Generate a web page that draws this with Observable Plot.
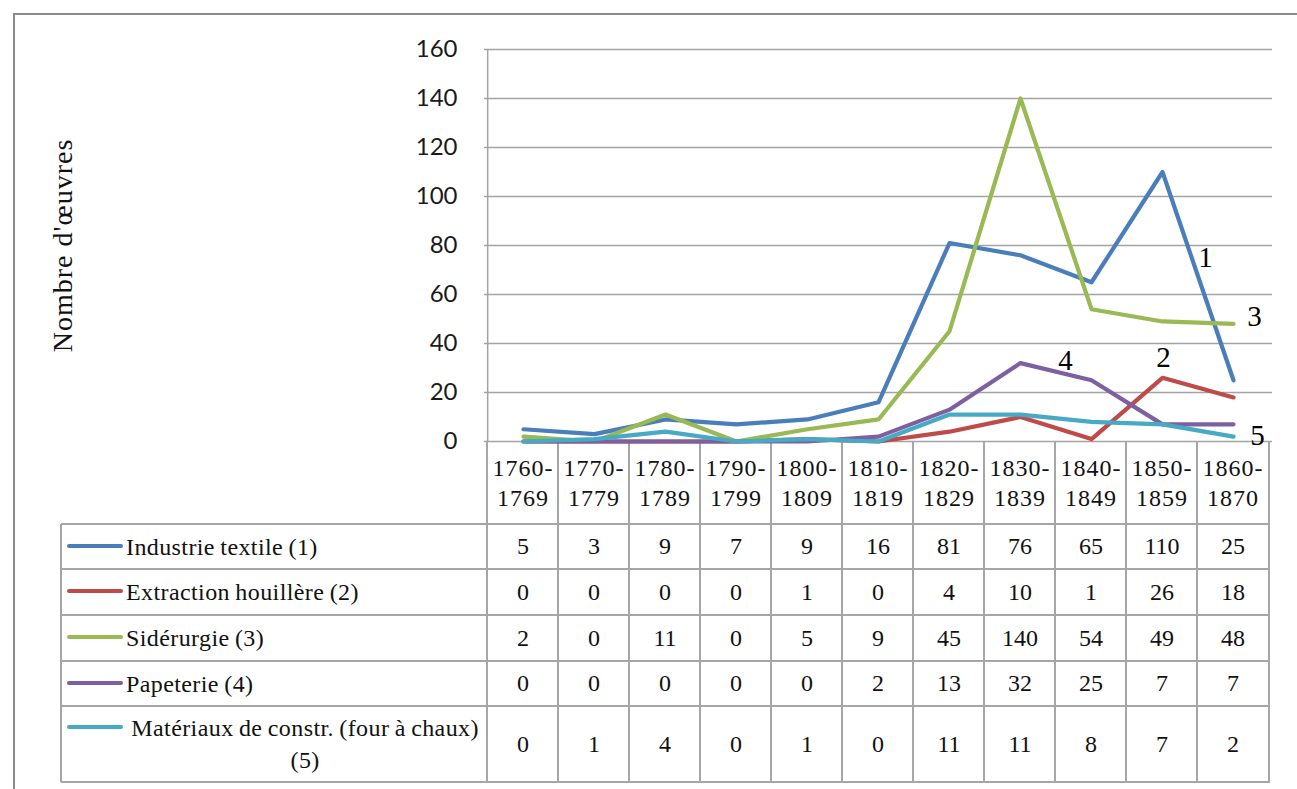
<!DOCTYPE html>
<html><head><meta charset="utf-8">
<script src="https://cdn.jsdelivr.net/npm/d3@7"></script>
<script src="https://cdn.jsdelivr.net/npm/@observablehq/plot@0.6"></script>
<style>
html,body{margin:0;padding:0;background:#fff;}
#wrap{position:relative;width:1297px;height:789px;overflow:hidden;font-family:'Liberation Serif',serif;color:#111;}
#frame{position:absolute;left:13px;top:13px;width:1400px;height:900px;border-left:2px solid #8a8a8a;border-top:2px solid #8a8a8a;}
#chart{position:absolute;left:0;top:0;z-index:2;}
#table{position:absolute;left:0;top:0;z-index:1;font-family:'Liberation Serif',serif;}
.ln{position:absolute;background:#a6a6a6;}
.cell{position:absolute;display:flex;align-items:center;justify-content:center;font-size:24px;font-family:'Liberation Serif',serif;}
.lab{position:absolute;display:flex;align-items:center;font-family:'Liberation Serif',serif;}
</style></head>
<body><div id="wrap"><div id="frame"></div><div id="table"></div><div id="chart"></div></div>
<script>
// ---- data ----
const categories = ["1760-1769","1770-1779","1780-1789","1790-1799","1800-1809","1810-1819","1820-1829","1830-1839","1840-1849","1850-1859","1860-1870"];
const seriesNames = ["Industrie textile (1)","Extraction houillère (2)","Sidérurgie (3)","Papeterie (4)","Matériaux de constr. (four à chaux) (5)"];
const textile    = [5, 3, 9, 7, 9, 16, 81, 76, 65, 110, 25];
const houille    = [0, 0, 0, 0, 1, 0, 4, 10, 1, 26, 18];
const siderurgie = [2, 0, 11, 0, 5, 9, 45, 140, 54, 49, 48];
const papeterie  = [0, 0, 0, 0, 0, 2, 13, 32, 25, 7, 7];
const materiaux  = [0, 1, 4, 0, 1, 0, 11, 11, 8, 7, 2];
const seriesValues = [textile, houille, siderurgie, papeterie, materiaux];
const seriesColors = ["#4A7EBB","#BE4B48","#98B954","#7D60A0","#46AAC5"];
const yTicks = [0, 20, 40, 60, 80, 100, 120, 140, 160];
const yLabel = "Nombre d'œuvres";
const seriesTags = [
  {tag:"1", at:"1860-1870", value:75},
  {tag:"2", at:"1850-1859", value:34},
  {tag:"3", at:"1860-1870", value:51},
  {tag:"4", at:"1840-1849", value:33},
  {tag:"5", at:"1860-1870", value:2.4}
];

// ---- layout ----
const W = 1297, H = 445, ML = 484, MR = 25, MT = 49, MB = 4;
const step = (W - ML - MR) / categories.length;
const tagDx = {"1": -28, "2": 1, "3": 21, "4": -26, "5": 24};
const serif = "'Liberation Serif', serif";

const rows = seriesNames.flatMap((s, i) => categories.map((c, j) => ({series: s, category: c, value: seriesValues[i][j]})));

const chart = Plot.plot({
  width: W, height: H, marginLeft: ML, marginRight: MR, marginTop: MT, marginBottom: MB,
  style: {fontFamily: "Lato, 'Open Sans', sans-serif", fontSize: "24px", color: "#1a1a1a", background: "transparent", overflow: "visible"},
  x: {type: "point", domain: categories, padding: 0.5, axis: null},
  y: {domain: [0, 160], axis: null},
  color: {domain: seriesNames, range: seriesColors},
  marks: [
    Plot.ruleY(yTicks, {stroke: "#a3a3a3", strokeWidth: 1.5}),
    Plot.ruleX([categories[0]], {dx: -step / 2, stroke: "#a3a3a3", strokeWidth: 1.5}),
    Plot.axisY({ticks: yTicks, tickSize: 0, tickPadding: 27, label: null, fontSize: 24, fill: "#1a1a1a"}),
    Plot.line(rows, {x: "category", y: "value", z: "series", stroke: "series", strokeWidth: 4.2, strokeLinejoin: "round", strokeLinecap: "round"}),
    ...seriesTags.map(t => Plot.text([t], {x: "at", y: "value", text: "tag", dx: tagDx[t.tag], fontFamily: serif, fontSize: 29, fill: "#000"})),
    Plot.text([yLabel], {frameAnchor: "left", textAnchor: "middle", rotate: -90, dx: -421, fontFamily: serif, fontSize: 28, fill: "#111", style: "letter-spacing:1px"})
  ]
});
chart.querySelectorAll("text").forEach(t => { if (t.textContent === yLabel) t.style.letterSpacing = "1px"; });
document.getElementById("chart").appendChild(chart);

// ---- data table (legend + values) aligned with the x scale ----
const X = chart.scale("x");
const colLeft = categories.map(c => X.apply(c) - step / 2);
const tableLeft = 61, axisX = colLeft[0], tableRight = colLeft[colLeft.length - 1] + step;
const headerTop = 441, rowEdges = [524, 569, 615, 661, 706, 782];
const tbl = document.getElementById("table");
function el(cls, l, t, w, h, html) {
  const d = document.createElement("div");
  d.className = cls;
  Object.assign(d.style, {left: l + "px", top: t + "px", width: w + "px", height: h + "px"});
  if (html != null) d.innerHTML = html;
  tbl.appendChild(d);
  return d;
}
const bottom = rowEdges[rowEdges.length - 1];
rowEdges.forEach(y => el("ln", tableLeft, y - 0.75, tableRight - tableLeft + 0.75, 1.5));
el("ln", tableLeft - 0.75, rowEdges[0], 1.5, bottom - rowEdges[0]);
colLeft.forEach(x => el("ln", x - 0.75, headerTop, 1.5, bottom - headerTop));
el("ln", tableRight - 0.75, headerTop, 1.5, bottom - headerTop + 0.75);

categories.forEach((c, j) => {
  const [a, b] = c.split("-");
  el("cell", colLeft[j], headerTop, step, rowEdges[0] - headerTop, `<div style="text-align:center;line-height:30px;letter-spacing:1px;font-family:${serif}">${a}-<br>${b}</div>`);
});
seriesNames.forEach((s, i) => {
  const top = rowEdges[i], h = rowEdges[i + 1] - rowEdges[i];
  seriesValues[i].forEach((v, j) => el("cell", colLeft[j], top, step, h, String(v)));
  const lab = el("lab", tableLeft, top, axisX - tableLeft, h);
  lab.innerHTML = `<div style="display:flex;align-items:flex-start">
     <div style="margin-left:6px;margin-top:13px;width:56px;height:4px;border-radius:2px;background:${seriesColors[i]}"></div>
     <div style="margin-left:3px;width:${axisX - tableLeft - 68}px"><span style="display:inline-block;text-align:center;font-size:24px;line-height:32px;font-family:${serif};letter-spacing:0.4px;word-spacing:-1px">${s}</span></div>
   </div>`;
});
</script>
</body></html>
